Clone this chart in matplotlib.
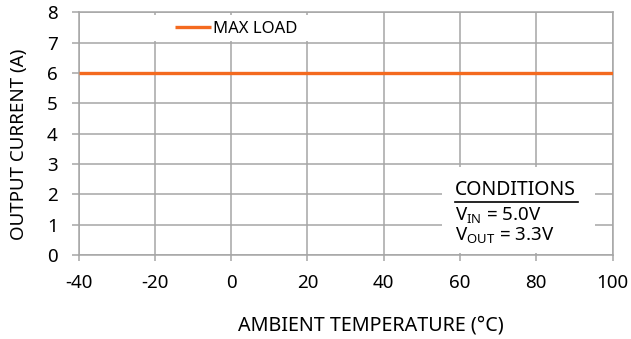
import matplotlib
matplotlib.use("Agg")
import matplotlib.pyplot as plt
from matplotlib.patches import Rectangle
from matplotlib.lines import Line2D

plt.rcParams['font.family'] = ['Noto Sans', 'DejaVu Sans']
plt.rcParams['mathtext.fontset'] = 'custom'
plt.rcParams['mathtext.rm'] = 'Noto Sans'
plt.rcParams['axes.unicode_minus'] = False

# Data
temperature = [-40, 100]
max_load = [6, 6]
series_name = "MAX LOAD"
x_ticks = [-40, -20, 0, 20, 40, 60, 80, 100]
y_ticks = [0, 1, 2, 3, 4, 5, 6, 7, 8]
x_label = "AMBIENT TEMPERATURE (°C)"
y_label = "OUTPUT CURRENT (A)"
cond_title = "CONDITIONS"
cond_lines = [r"V$_{\mathregular{IN}}$ = 5.0V", r"V$_{\mathregular{OUT}}$ = 3.3V"]

W, H = 631, 339
L, R, T, B = 78.5, 612.5, 12.5, 255
fig = plt.figure(figsize=(W / 100, H / 100), dpi=100)
ax = fig.add_axes([L / W, 1 - B / H, (R - L) / W, (B - T) / H])

grid_c = '#A6A6A6'
orange = '#F46A1F'

ax.plot(temperature, max_load, color=orange, lw=2.4, zorder=5, label=series_name, solid_capstyle='butt')

ax.set_xlim(-40, 100)
ax.set_ylim(0, 8)
ax.set_xticks(x_ticks)
ax.set_yticks(y_ticks)
ax.grid(True, color=grid_c, lw=1.1, zorder=0)
ax.set_axisbelow(True)
for s in ax.spines.values():
    s.set_color(grid_c)
    s.set_linewidth(1.1)
ax.tick_params(axis='x', direction='out', length=4.5, width=1.1, color=grid_c, pad=9.5, labelsize=13.5)
ax.tick_params(axis='y', direction='out', length=5, width=1.1, color=grid_c, pad=10, labelsize=13.5)

def px_to_ax(x, y):
    return (x - L) / (R - L), (B - y) / (B - T)

ax.set_xlabel(x_label, fontsize=14.2)
ax.xaxis.set_label_coords(*px_to_ax(371, 325))
ax.set_ylabel(y_label, fontsize=13.5)
ax.yaxis.set_label_coords(*px_to_ax(19.5, 144))
ax.xaxis.label.set_va('center')
ax.yaxis.label.set_va('center')

# legend background
x0, y0 = px_to_ax(145, 41)
x1, y1 = px_to_ax(321, 15)
ax.add_patch(Rectangle((x0, y0), x1 - x0, y1 - y0, transform=ax.transAxes,
                       facecolor='white', edgecolor='none', zorder=2))
lx, ly = px_to_ax(175, 29)
leg = ax.legend(loc='center left', bbox_to_anchor=(lx, ly), frameon=False,
                fontsize=12, handlelength=2.15, handletextpad=0.15, borderpad=0, borderaxespad=0)

# conditions box
x0, y0 = px_to_ax(442, 253)
x1, y1 = px_to_ax(595, 167)
ax.add_patch(Rectangle((x0, y0), x1 - x0, y1 - y0, transform=ax.transAxes,
                       facecolor='white', edgecolor='none', zorder=2))
tx, ty = px_to_ax(455, 190)
ax.text(tx, ty, cond_title, transform=ax.transAxes, fontsize=14, va='center', ha='left', zorder=6)
ux0, uy = px_to_ax(455, 201.5)
ux1, _ = px_to_ax(578, 201.5)
ax.add_line(Line2D([ux0, ux1], [uy, uy], transform=ax.transAxes, color='black', lw=1.2, zorder=6))
for i, t in enumerate(cond_lines):
    tx, ty = px_to_ax(455, 216 + 20 * i)
    ax.text(tx, ty, t, transform=ax.transAxes, fontsize=13.5, va='center', ha='left', zorder=6)

fig.savefig('out.png', dpi=100)
